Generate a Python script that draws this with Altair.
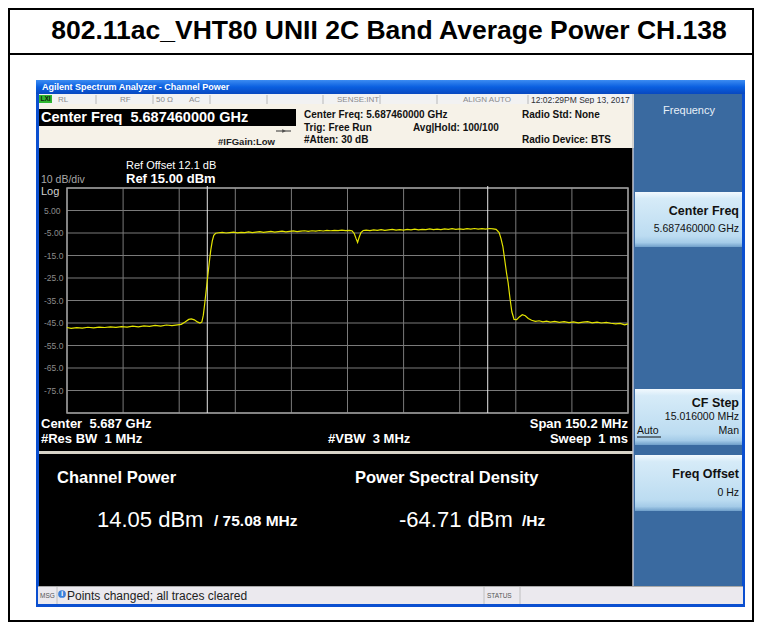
import altair as alt
import pandas as pd

# ---------------- data ----------------
freq_offset_mhz = [
    -75.1, -74.0, -72.5, -71.0, -69.5, -68.0, -66.5, -65.0, -63.5, -62.0,
    -60.5, -59.0, -57.5, -56.0, -54.5, -53.0, -51.5, -50.0, -48.5, -47.0,
    -45.5, -44.5, -43.5, -42.5, -41.8, -41.0, -40.2, -39.5, -39.0, -38.6,
    -38.2, -37.8, -37.4, -37.0, -36.6, -36.2, -35.8, -35.3, -34.5, -33.5,
    -32.5, -31.5, -30.5, -29.5, -28.5, -27.5, -26.5, -25.5, -24.5, -23.5,
    -22.5, -21.5, -20.5, -19.5, -18.5, -17.5, -16.5, -15.5, -14.5, -13.5,
    -12.5, -11.5, -10.5, -9.5, -8.5, -7.5, -6.5, -5.5, -4.5, -3.5,
    -2.5, -1.5, -0.5, 0.5, 1.2, 1.8, 2.3, 2.7, 3.1, 3.6,
    4.2, 5.0, 6.0, 7.0, 8.0, 9.0, 10.0, 11.0, 12.0, 13.0,
    14.0, 15.0, 16.0, 17.0, 18.0, 19.0, 20.0, 21.0, 22.0, 23.0,
    24.0, 25.0, 26.0, 27.0, 28.0, 29.0, 30.0, 31.0, 32.0, 33.0,
    34.0, 35.0, 36.0, 37.0, 38.0, 39.0, 39.8, 40.6, 41.1, 41.6,
    42.1, 42.6, 43.0, 43.5, 44.0, 44.6, 45.3, 46.0, 46.8, 47.6,
    48.4, 49.3, 50.3, 51.3, 52.3, 53.3, 54.3, 55.5, 56.7, 58.0,
    59.3, 60.5, 61.8, 63.0, 64.3, 65.5, 66.8, 68.0, 69.3, 70.5,
    71.8, 73.0, 74.2, 75.1,
]
trace_dbm = [
    -47.0, -47.4, -47.1, -47.3, -46.9, -47.2, -46.8, -47.0, -46.7, -46.9,
    -46.6, -46.8, -46.4, -46.7, -46.3, -46.5, -46.1, -46.4, -45.9, -46.2,
    -45.8, -45.6, -44.6, -43.4, -43.2, -43.6, -44.5, -45.0, -44.6, -41.5,
    -36.0, -30.0, -24.0, -18.0, -12.5, -8.5, -6.0, -5.1, -4.9, -4.7,
    -5.0, -4.8, -4.6, -4.9, -4.7, -4.8, -4.5, -4.8, -4.6, -4.4,
    -4.7, -4.5, -4.3, -4.6, -4.4, -4.2, -4.5, -4.3, -4.1, -4.4,
    -4.2, -4.0, -4.3, -4.0, -4.2, -3.9, -4.1, -3.8, -4.0, -3.8,
    -3.9, -3.7, -3.9, -3.8, -4.0, -5.2, -7.5, -9.2, -7.0, -4.8,
    -3.9, -3.7, -3.9, -3.6, -3.8, -3.5, -3.8, -3.6, -3.4, -3.7,
    -3.5, -3.7, -3.4, -3.6, -3.3, -3.6, -3.4, -3.5, -3.2, -3.5,
    -3.3, -3.5, -3.2, -3.4, -3.1, -3.4, -3.2, -3.4, -3.1, -3.3,
    -3.0, -3.3, -3.1, -3.3, -3.0, -3.2, -3.4, -4.8, -7.5, -11.0,
    -17.0, -23.0, -27.0, -34.0, -40.0, -43.4, -43.5, -42.3, -41.3, -41.8,
    -43.0, -43.8, -44.3, -44.0, -44.5, -44.2, -44.6, -44.3, -44.7, -44.4,
    -44.8, -44.5, -44.9, -44.6, -44.4, -44.9, -44.6, -45.0, -44.7, -45.1,
    -45.4, -45.2, -45.8, -45.4,
]
grid_x_mhz = [-75.1, -60.08, -45.06, -30.04, -15.02, 0.0, 15.02, 30.04, 45.06, 60.08, 75.1]
grid_y_dbm = [15, 5, -5, -15, -25, -35, -45, -55, -65, -75, -85]
tick_y_dbm = [5, -5, -15, -25, -35, -45, -55, -65, -75]
tick_y_labels = ["5.00", "-5.00", "-15.0", "-25.0", "-35.0", "-45.0", "-55.0", "-65.0", "-75.0"]
channel_edges_mhz = [-37.54, 37.54]

# ---------------- layout helpers (page coordinates -> chart coordinates) ----------------
OX, OY = 8, 8
W, H = 746, 614
FONT = "Liberation Sans"
NB = "\u00a0"
ONE = pd.DataFrame({"k": [0]})

X_SCALE = alt.Scale(domain=[-75.1, 75.1], range=[67 - OX, 628 - OX], nice=False, zero=False)
Y_SCALE = alt.Scale(domain=[-85, 15], range=[413 - OY, 188 - OY], nice=False, zero=False)


def box(x1, y1, x2, y2, fill, **kw):
    return alt.Chart(ONE).mark_rect(color=fill, **kw).encode(
        x=alt.value(x1 - OX), x2=alt.value(x2 - OX),
        y=alt.value(y1 - OY), y2=alt.value(y2 - OY))


def frame(x1, y1, x2, y2, stroke, sw=1):
    return alt.Chart(ONE).mark_rect(fillOpacity=0, stroke=stroke, strokeWidth=sw).encode(
        x=alt.value(x1 - OX), x2=alt.value(x2 - OX),
        y=alt.value(y1 - OY), y2=alt.value(y2 - OY))


def hline(x1, x2, y, color, w=1):
    return alt.Chart(ONE).mark_rule(color=color, strokeWidth=w).encode(
        x=alt.value(x1 - OX), x2=alt.value(x2 - OX), y=alt.value(y - OY))


def vline(x, y1, y2, color, w=1):
    return alt.Chart(ONE).mark_rule(color=color, strokeWidth=w).encode(
        x=alt.value(x - OX), y=alt.value(y1 - OY), y2=alt.value(y2 - OY))


def txt(x, y, s, size=10, color="white", weight="normal", align="left", baseline="middle", font=FONT):
    return alt.Chart(ONE).mark_text(text=s, fontSize=size, color=color, fontWeight=weight,
                                    align=align, baseline=baseline, font=font).encode(
        x=alt.value(x - OX), y=alt.value(y - OY))


def grad(stops, vertical=True):
    return alt.Gradient(gradient="linear",
                        stops=[alt.GradientStop(color=c, offset=o) for o, c in stops],
                        x1=0, y1=0, x2=0 if vertical else 1, y2=1 if vertical else 0)


layers = []
# outer figure frame and title
layers.append(box(8, 8, 754, 622, "white"))
layers.append(frame(9, 9, 753, 621, "black", 2))
layers.append(hline(9, 753, 54, "black", 2))
layers.append(txt(389, 31, "802.11ac_VHT80 UNII 2C Band Average Power CH.138", 26.5, "black", "bold", "center"))

# analyzer window
layers.append(box(36, 80, 745, 607, "#0b4fd0"))
layers.append(box(36, 80, 745, 94, grad([(0, "#3c8cf2"), (0.5, "#0a5fe0"), (1, "#0848c0")])))
layers.append(txt(42, 87, "Agilent Spectrum Analyzer - Channel Power", 9, "white", "bold"))

# status row
layers.append(box(39, 94, 634, 104, "#f2f2f2"))
for xd in [96, 153, 210, 267, 323, 380, 437, 528]:
    layers.append(vline(xd, 95, 104, "#b8b8b8"))
layers.append(box(39, 95, 52, 103, "#2fb52f"))
layers.append(txt(45.5, 99.3, "LXI", 6.5, "#102010", "bold", "center"))
for xs, s in [(58, "RL"), (120, "RF"), (156, "50 Ω"), (189, "AC"), (337, "SENSE:INT"), (463, "ALIGN AUTO")]:
    layers.append(txt(xs, 99.5, s, 8, "#8a8a8a"))
layers.append(txt(531, 99.5, "12:02:29PM Sep 13, 2017", 8.5, "#333333"))

# header
layers.append(box(39, 104, 634, 148, "#f6f2e8"))
layers.append(box(39, 109, 296, 126, "black"))
layers.append(txt(41, 118, "Center Freq" + NB + NB + "5.687460000 GHz", 14.5, "white", "bold"))
layers.append(hline(276, 291, 131, "#333333", 1))
layers.append(alt.Chart(ONE).mark_point(shape="triangle-right", filled=True, size=18, color="#333333").encode(
    x=alt.value(284 - OX), y=alt.value(131 - OY)))
layers.append(txt(218, 142, "#IFGain:Low", 9.5, "#222222", "bold"))
layers.append(txt(304, 115, "Center Freq: 5.687460000 GHz", 10, "#111111", "bold"))
layers.append(txt(304, 127.5, "Trig: Free Run", 10, "#111111", "bold"))
layers.append(txt(304, 139.5, "#Atten: 30 dB", 10, "#111111", "bold"))
layers.append(txt(413, 127.5, "Avg|Hold: 100/100", 10, "#111111", "bold"))
layers.append(txt(522, 115, "Radio Std: None", 10, "#111111", "bold"))
layers.append(txt(522, 139.5, "Radio Device: BTS", 10, "#111111", "bold"))

# black display and results area
layers.append(box(39, 148, 633, 586, "black"))
layers.append(box(39, 451, 633, 454, "#d8d4c8"))
layers.append(vline(633, 94, 586, "#c8c8c8", 1.5))

# right soft-key panel
layers.append(box(634, 94, 742, 586, "#3a6aa0"))
layers.append(txt(689, 111, "Frequency", 11, "#e8f0f8", "normal", "center"))
btn_grad = grad([(0, "#f2f9fe"), (0.12, "#d6ebf8"), (0.8, "#bcdcf1"), (0.92, "#a4cbe8"), (1, "#6f9fca")])
for (b1, b2) in [(192, 247), (389, 445), (455, 511)]:
    layers.append(box(635, b1, 742, b2, btn_grad))
layers.append(txt(739, 211, "Center Freq", 12.5, "#111111", "bold", "right"))
layers.append(txt(739, 229, "5.687460000 GHz", 10.5, "#111111", "normal", "right"))
layers.append(txt(739, 403, "CF Step", 12.5, "#111111", "bold", "right"))
layers.append(txt(739, 417, "15.016000 MHz", 10.5, "#111111", "normal", "right"))
layers.append(txt(637, 431, "Auto", 10.5, "#111111", "normal", "left"))
layers.append(hline(637, 661, 437, "#111111", 1))
layers.append(txt(739, 431, "Man", 10.5, "#111111", "normal", "right"))
layers.append(txt(739, 474, "Freq Offset", 12.5, "#111111", "bold", "right"))
layers.append(txt(739, 493, "0 Hz", 10.5, "#111111", "normal", "right"))

# message bar
layers.append(box(38, 586, 743, 604, "#ebe9ee"))
layers.append(hline(38, 743, 586.5, "#a8a8a8", 1))
for xd in [57, 484, 520]:
    layers.append(vline(xd, 587, 604, "#c0c0c0"))
layers.append(txt(40, 595.5, "MSG", 6.5, "#555555"))
layers.append(alt.Chart(ONE).mark_circle(size=60, color="#3c7fd8", opacity=1).encode(
    x=alt.value(62 - OX), y=alt.value(594 - OY)))
layers.append(txt(62, 594, "i", 8, "white", "bold", "center"))
layers.append(txt(67, 595.5, "Points changed; all traces cleared", 12, "#222222"))
layers.append(txt(487, 595.5, "STATUS", 6.5, "#555555"))

# ---------------- spectrum plot (data through scales) ----------------
gy = pd.DataFrame({"g": grid_y_dbm})
gx = pd.DataFrame({"g": grid_x_mhz})
layers.append(alt.Chart(gy).mark_rule(color="#7a7a7a", strokeWidth=1).encode(
    y=alt.Y("g:Q", scale=Y_SCALE, axis=None),
    x=alt.value(67 - OX), x2=alt.value(628 - OX)))
layers.append(alt.Chart(gx).mark_rule(color="#7a7a7a", strokeWidth=1).encode(
    x=alt.X("g:Q", scale=X_SCALE, axis=None),
    y=alt.value(188 - OY), y2=alt.value(413 - OY)))
layers.append(frame(67, 188, 628, 413, "#9a9a9a", 1.5))

edges = pd.DataFrame({"e": channel_edges_mhz})
layers.append(alt.Chart(edges).mark_rule(color="#e8e8e8", strokeWidth=1).encode(
    x=alt.X("e:Q", scale=X_SCALE, axis=None),
    y=alt.value(186 - OY), y2=alt.value(413 - OY)))

trace = pd.DataFrame({"f": freq_offset_mhz, "p": trace_dbm})
layers.append(alt.Chart(trace).mark_line(color="#e4e400", strokeWidth=1.2).encode(
    x=alt.X("f:Q", scale=X_SCALE, axis=None),
    y=alt.Y("p:Q", scale=Y_SCALE, axis=None)))

ticks = pd.DataFrame({"v": tick_y_dbm, "t": tick_y_labels})
layers.append(alt.Chart(ticks).mark_text(align="left", baseline="middle", fontSize=8.5,
                                         color="#8c8c8c", font=FONT).encode(
    y=alt.Y("v:Q", scale=Y_SCALE, axis=None), x=alt.value(44 - OX), text="t:N"))

# display annotations
layers.append(txt(126, 166, "Ref Offset 12.1 dB", 11, "white"))
layers.append(txt(126, 178.5, "Ref 15.00 dBm", 13, "white", "bold"))
layers.append(txt(41, 179.5, "10 dB/div", 10.5, "#a8a8a8"))
layers.append(txt(41, 191.5, "Log", 11, "#d0d0d0"))
layers.append(txt(41, 424, "Center" + NB + NB + "5.687 GHz", 13, "white", "bold"))
layers.append(txt(41, 438.5, "#Res BW" + NB + NB + "1 MHz", 13, "white", "bold"))
layers.append(txt(328, 438.5, "#VBW" + NB + NB + "3 MHz", 13, "white", "bold"))
layers.append(txt(628, 424, "Span 150.2 MHz", 13, "white", "bold", "right"))
layers.append(txt(628, 438.5, "Sweep" + NB + NB + "1 ms", 13, "white", "bold", "right"))

# results
layers.append(txt(57, 478, "Channel Power", 16.5, "white", "bold"))
layers.append(txt(355, 478, "Power Spectral Density", 16.5, "white", "bold"))
layers.append(txt(97, 520, "14.05 dBm", 22, "white"))
layers.append(txt(214, 521, "/ 75.08 MHz", 15.5, "white", "bold"))
layers.append(txt(399, 520, "-64.71 dBm", 22, "white"))
layers.append(txt(522, 521, "/Hz", 15.5, "white", "bold"))

chart = alt.layer(*layers).properties(
    width=W, height=H, padding=0,
    autosize=alt.AutoSizeParams(type="none"),
    background="white",
).configure_view(strokeWidth=0)

chart.save("out.html", embed_options={"renderer": "svg", "actions": False})
